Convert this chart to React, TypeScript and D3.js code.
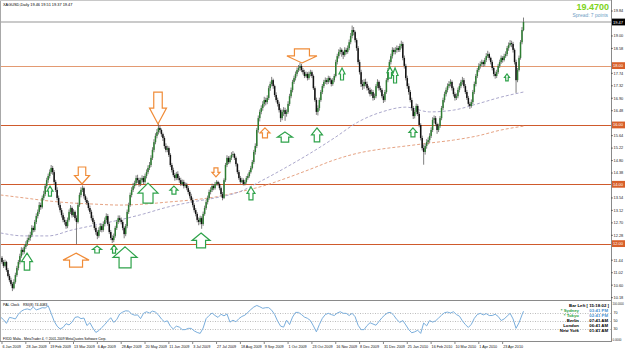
import React from 'react';
import * as d3 from 'd3';

const closes = [
  11.52, 11.38, 11.25, 11.38, 11.11, 10.91, 10.77, 10.64, 10.50, 10.71,
  10.94, 11.18, 11.38, 11.58, 11.79, 11.72, 11.89, 11.99, 12.12, 12.19,
  12.29, 12.53, 12.46, 12.73, 12.93, 13.07, 13.30, 13.23, 13.54, 13.67,
  13.94, 14.14, 14.28, 14.41, 14.55, 14.41, 14.08, 13.81, 13.54, 13.30,
  13.13, 12.96, 12.80, 12.73, 12.59, 12.80, 13.07, 13.20, 12.96, 13.07,
  12.86, 12.73, 13.30, 13.64, 13.81, 13.87, 13.60, 13.47, 13.37, 13.20,
  13.07, 12.86, 12.73, 12.53, 12.39, 12.26, 12.46, 12.59, 12.46, 12.66,
  12.80, 12.93, 12.66, 12.39, 12.19, 12.12, 12.26, 12.53, 12.73, 12.86,
  12.80, 12.73, 12.53, 12.32, 12.59, 13.07, 13.30, 13.64, 13.81, 13.94,
  14.04, 14.21, 14.14, 14.01, 14.14, 14.21, 14.08, 14.28, 14.41, 14.55,
  14.65, 14.89, 15.16, 15.42, 15.63, 15.76, 15.90, 15.83, 15.69, 15.56,
  15.29, 15.16, 15.22, 14.99, 14.65, 14.48, 14.31, 14.21, 14.35, 14.21,
  14.14, 14.01, 14.08, 13.94, 13.98, 13.87, 13.74, 13.60, 13.47, 13.30,
  13.13, 13.00, 12.80, 12.73, 12.86, 12.66, 13.00, 13.20, 13.40, 13.54,
  13.74, 13.81, 13.94, 13.87, 14.01, 14.08, 14.01, 13.87, 13.67, 13.54,
  14.14, 14.65, 14.89, 14.75, 14.89, 14.99, 15.02, 14.89, 14.68, 14.41,
  14.21, 14.08, 14.14, 14.01, 14.08, 14.21, 14.28, 14.41, 14.55, 14.75,
  15.09, 15.29, 15.83, 16.23, 16.44, 16.57, 16.71, 16.84, 16.77, 16.91,
  17.24, 17.38, 17.51, 17.31, 17.01, 16.84, 16.71, 16.50, 16.23, 16.44,
  16.50, 16.37, 16.44, 16.71, 16.97, 17.18, 17.45, 17.58, 17.72, 17.85,
  17.92, 17.99, 17.85, 17.78, 17.65, 17.72, 17.58, 17.72, 17.78, 17.65,
  17.24, 16.84, 16.44, 16.57, 16.84, 17.11, 17.31, 17.45, 17.51, 17.45,
  17.58, 17.51, 17.38, 17.51, 17.65, 18.12, 18.32, 18.46, 18.53, 18.46,
  18.36, 18.53, 18.46, 18.59, 18.79, 19.00, 19.20, 19.13, 18.86, 18.59,
  18.12, 17.78, 17.38, 17.31, 17.45, 17.38, 17.24, 17.18, 17.04, 17.11,
  16.91, 16.97, 17.31, 17.45, 17.24, 17.18, 16.97, 16.84, 17.11, 17.51,
  17.85, 18.12, 18.32, 18.53, 18.46, 18.53, 18.59, 18.53, 18.66, 18.73,
  18.26, 17.99, 17.58, 17.31, 17.11, 16.84, 16.57, 16.30, 16.44, 16.64,
  16.37, 16.00, 15.56, 15.22, 15.09, 15.29, 15.42, 15.49, 15.63, 15.83,
  16.17, 16.23, 16.03, 15.83, 15.96, 16.23, 16.57, 16.84, 17.04, 17.18,
  17.31, 17.38, 17.45, 17.24, 17.04, 16.91, 16.97, 17.18, 17.31, 17.45,
  17.51, 17.31, 17.11, 16.91, 16.71, 16.64, 16.77, 17.11, 17.38, 17.65,
  17.85, 17.99, 18.05, 18.12, 18.05, 18.19, 18.32, 18.39, 18.26, 18.12,
  17.92, 17.72, 17.65, 17.78, 17.99, 18.12, 18.26, 18.19, 18.32, 18.39,
  18.59, 18.69, 18.76, 18.73, 18.53, 18.12, 17.51, 17.85, 18.26, 18.79, 19.20, 19.47,
];

const highs = [
  11.62, 11.58, 11.45, 11.46, 11.42, 11.18, 10.98, 10.85, 10.70, 10.80,
  11.02, 11.25, 11.45, 11.66, 11.88, 11.86, 11.96, 12.08, 12.20, 12.30,
  12.40, 12.62, 12.60, 12.80, 13.02, 13.15, 13.40, 13.38, 13.62, 13.78,
  14.02, 14.22, 14.36, 14.50, 14.65, 14.62, 14.48, 14.15, 13.90, 13.62,
  13.38, 13.20, 13.04, 12.90, 12.80, 12.88, 13.15, 13.30, 13.25, 13.16,
  13.12, 12.95, 13.38, 13.72, 13.90, 13.96, 13.92, 13.66, 13.55, 13.44,
  13.28, 13.14, 12.95, 12.80, 12.60, 12.45, 12.55, 12.68, 12.66, 12.75,
  12.88, 13.02, 13.00, 12.72, 12.46, 12.28, 12.34, 12.60, 12.80, 12.95,
  12.95, 12.88, 12.80, 12.58, 12.66, 13.15, 13.38, 13.72, 13.90, 14.05,
  14.12, 14.30, 14.32, 14.22, 14.22, 14.30, 14.28, 14.36, 14.50, 14.64,
  14.75, 14.98, 15.25, 15.52, 15.72, 15.86, 16.06, 15.98, 15.88, 15.74,
  15.62, 15.38, 15.30, 15.28, 15.05, 14.72, 14.56, 14.38, 14.42, 14.44,
  14.28, 14.22, 14.16, 14.15, 14.06, 14.05, 13.94, 13.80, 13.68, 13.55,
  13.36, 13.20, 13.06, 12.88, 12.94, 12.92, 13.08, 13.28, 13.48, 13.62,
  13.82, 13.90, 14.02, 14.00, 14.08, 14.14, 14.12, 14.06, 13.92, 13.74,
  14.20, 14.72, 14.98, 14.95, 14.96, 15.08, 15.12, 15.06, 14.94, 14.72,
  14.48, 14.28, 14.22, 14.20, 14.15, 14.28, 14.36, 14.48, 14.62, 14.82,
  15.16, 15.38, 15.90, 16.32, 16.52, 16.66, 16.80, 16.95, 16.92, 17.00,
  17.32, 17.46, 17.62, 17.56, 17.36, 17.10, 16.92, 16.78, 16.56, 16.52,
  16.60, 16.58, 16.52, 16.80, 17.05, 17.26, 17.52, 17.66, 17.80, 17.94,
  18.02, 18.10, 18.06, 17.92, 17.86, 17.80, 17.78, 17.80, 17.86, 17.84,
  17.70, 17.30, 16.92, 16.66, 16.92, 17.18, 17.38, 17.52, 17.60, 17.58,
  17.66, 17.64, 17.56, 17.58, 17.72, 18.20, 18.40, 18.55, 18.62, 18.58,
  18.50, 18.62, 18.60, 18.68, 18.88, 19.10, 19.35, 19.30, 19.18, 18.92,
  18.66, 18.20, 17.86, 17.52, 17.54, 17.56, 17.46, 17.32, 17.26, 17.20,
  17.18, 17.06, 17.38, 17.54, 17.50, 17.32, 17.24, 17.04, 17.18, 17.58,
  17.92, 18.20, 18.40, 18.62, 18.60, 18.62, 18.68, 18.66, 18.74, 18.84,
  18.80, 18.34, 18.06, 17.66, 17.40, 17.18, 16.92, 16.64, 16.52, 16.72,
  16.70, 16.44, 16.06, 15.64, 15.34, 15.38, 15.52, 15.58, 15.72, 15.92,
  16.26, 16.32, 16.30, 16.08, 16.04, 16.30, 16.64, 16.92, 17.12, 17.26,
  17.40, 17.48, 17.54, 17.50, 17.30, 17.10, 17.06, 17.26, 17.40, 17.52,
  17.62, 17.58, 17.38, 17.18, 16.98, 16.78, 16.86, 17.18, 17.46, 17.72,
  17.92, 18.08, 18.14, 18.20, 18.18, 18.26, 18.42, 18.50, 18.44, 18.30,
  18.18, 17.98, 17.80, 17.86, 18.06, 18.20, 18.34, 18.32, 18.40, 18.48,
  18.66, 18.78, 18.86, 18.84, 18.80, 18.58, 18.20, 17.92, 18.34, 18.86, 19.30, 19.62,
];

const lows = [
  11.30, 11.32, 11.18, 11.20, 11.05, 10.86, 10.70, 10.58, 10.40, 10.46,
  10.65, 10.88, 11.10, 11.30, 11.52, 11.62, 11.66, 11.82, 11.92, 12.05,
  12.10, 12.22, 12.38, 12.40, 12.66, 12.85, 13.00, 13.14, 13.18, 13.46,
  13.60, 13.86, 14.05, 14.20, 14.35, 14.32, 14.00, 13.74, 13.46, 13.22,
  13.05, 12.88, 12.72, 12.64, 12.50, 12.52, 12.74, 13.00, 12.88, 12.90,
  12.78, 11.98, 12.68, 13.24, 13.56, 13.74, 13.52, 13.40, 13.30, 13.12,
  13.00, 12.78, 12.66, 12.45, 12.30, 12.15, 12.20, 12.40, 12.38, 12.40,
  12.58, 12.72, 12.60, 12.32, 12.12, 12.02, 12.05, 12.20, 12.46, 12.66,
  12.72, 12.65, 12.45, 12.18, 12.25, 12.52, 13.00, 13.24, 13.56, 13.74,
  13.86, 13.96, 14.05, 13.92, 13.94, 14.06, 14.00, 14.02, 14.20, 14.34,
  14.48, 14.58, 14.82, 15.08, 15.35, 15.55, 15.68, 15.74, 15.60, 15.46,
  15.20, 15.08, 15.08, 14.92, 14.58, 14.40, 14.24, 14.12, 14.14, 14.14,
  14.05, 13.94, 13.95, 13.86, 13.88, 13.80, 13.66, 13.52, 13.38, 13.22,
  13.05, 12.92, 12.72, 12.62, 12.65, 12.50, 12.60, 12.94, 13.14, 13.32,
  13.48, 13.66, 13.74, 13.80, 13.82, 13.96, 13.94, 13.80, 13.60, 13.46,
  13.50, 14.08, 14.58, 14.68, 14.70, 14.82, 14.92, 14.82, 14.60, 14.34,
  14.15, 14.02, 14.04, 13.96, 13.96, 14.02, 14.15, 14.22, 14.36, 14.50,
  14.68, 15.00, 15.22, 15.74, 16.12, 16.36, 16.48, 16.62, 16.66, 16.70,
  16.84, 17.15, 17.30, 17.22, 16.94, 16.76, 16.62, 16.42, 16.10, 16.16,
  16.30, 16.14, 16.28, 16.38, 16.64, 16.90, 17.10, 17.38, 17.50, 17.64,
  17.78, 17.82, 17.78, 17.70, 17.58, 17.60, 17.50, 17.52, 17.64, 17.58,
  17.18, 16.78, 16.34, 16.32, 16.48, 16.78, 17.04, 17.24, 17.38, 17.36,
  17.38, 17.44, 17.30, 17.32, 17.44, 17.60, 18.04, 18.24, 18.38, 18.30,
  18.22, 18.30, 18.38, 18.40, 18.52, 18.72, 18.92, 19.02, 18.78, 18.50,
  18.04, 17.70, 17.28, 17.18, 17.22, 17.30, 17.16, 17.06, 16.96, 16.98,
  16.82, 16.84, 16.90, 17.24, 17.16, 17.10, 16.90, 16.74, 16.78, 17.05,
  17.44, 17.78, 18.04, 18.24, 18.38, 18.38, 18.44, 18.46, 18.46, 18.58,
  18.18, 17.90, 17.50, 17.22, 17.02, 16.76, 16.48, 16.20, 16.22, 16.36,
  16.30, 15.92, 15.48, 15.14, 14.66, 15.00, 15.20, 15.34, 15.40, 15.56,
  15.76, 16.06, 15.96, 15.70, 15.76, 15.90, 16.16, 16.50, 16.76, 16.96,
  17.10, 17.24, 17.30, 17.16, 16.96, 16.82, 16.84, 16.90, 17.10, 17.24,
  17.36, 17.24, 17.04, 16.84, 16.64, 16.54, 16.58, 16.70, 17.04, 17.30,
  17.58, 17.78, 17.90, 17.98, 17.96, 17.98, 18.12, 18.26, 18.18, 18.04,
  17.84, 17.64, 17.56, 17.58, 17.72, 17.92, 18.06, 18.10, 18.14, 18.26,
  18.32, 18.50, 18.64, 18.62, 18.44, 18.04, 17.08, 17.44, 17.80, 18.20, 18.72, 19.16,
];

const firstOpen = 11.4;

const dateLabels = [
  '6 Jan 2009', '28 Jan 2009', '19 Feb 2009', '13 Mar 2009', '6 Apr 2009', '28 Apr 2009',
  '20 May 2009', '11 Jun 2009', '3 Jul 2009', '27 Jul 2009', '18 Aug 2009', '9 Sep 2009',
  '1 Oct 2009', '23 Oct 2009', '16 Nov 2009', '8 Dec 2009', '31 Dec 2009', '25 Jan 2010',
  '16 Feb 2010', '10 Mar 2010', '1 Apr 2010', '23 Apr 2010',
];
const dateLabelStart = 1;
const dateLabelEvery = 16;

const levelPrices = [18, 16, 14, 12];
const levelTexts = ['18.00', '16.00', '14.00', '12.00'];
const bidPrice = 19.47;

const priceTicks = [
  19.84, 19.42, 19.0, 18.58, 18.16, 17.74, 17.32, 16.9, 16.48, 16.06, 15.64, 15.22,
  14.8, 14.38, 13.96, 13.54, 13.12, 12.7, 12.28, 11.86, 11.44, 11.02, 10.6, 10.18,
];

const maBars = [0, 16, 32, 48, 64, 80, 96, 112, 128, 144, 160, 176, 192, 208, 224, 240, 256, 272, 288, 304, 320, 336, 351];
const maFast = [12.36, 12.26, 12.26, 12.46, 12.63, 12.80, 13.00, 13.23, 13.40, 13.54, 13.74, 14.14, 14.58, 15.05, 15.56, 16.10, 16.44, 16.60, 16.44, 16.50, 16.71, 16.94, 17.11];
const maSlow = [13.64, 13.54, 13.44, 13.37, 13.33, 13.30, 13.33, 13.40, 13.47, 13.57, 13.74, 13.94, 14.21, 14.51, 14.82, 15.05, 15.19, 15.29, 15.39, 15.49, 15.63, 15.83, 15.96];

// RSI(8), one reading every second bar, last one on the final bar
const rsiValues = [
  59.8, 53.5, 44.1, 59.0, 57.4, 55.1, 66.8, 74.7, 78.6, 80.2,
  77.8, 84.9, 77.8, 80.2, 83.3, 82.5, 88.0, 69.2, 49.6, 37.1,
  30.0, 33.9, 43.3, 40.2, 47.2, 59.0, 60.6, 55.9, 57.4, 38.6,
  45.7, 32.4, 21.4, 26.1, 33.9, 41.0, 50.4, 58.2, 46.5, 53.5,
  67.6, 72.3, 75.5, 74.7, 67.6, 64.5, 65.3, 55.9, 69.2, 73.1,
  70.0, 74.7, 72.3, 65.3, 55.1, 48.0, 50.4, 37.1, 30.0, 37.1,
  34.7, 28.4, 28.4, 31.6, 31.6, 25.3, 21.4, 19.0, 32.4, 55.9,
  63.7, 70.0, 63.7, 59.0, 66.8, 62.9, 67.6, 47.2, 52.0, 48.0,
  55.9, 61.4, 64.5, 71.5, 78.6, 84.9, 88.8, 85.7, 81.7, 83.3,
  83.3, 77.0, 66.1, 49.6, 37.1, 34.7, 52.0, 41.0, 59.8, 71.5,
  71.5, 66.1, 59.8, 56.7, 51.2, 37.8, 22.9, 41.0, 56.7, 66.1,
  69.2, 66.1, 63.7, 70.0, 73.1, 69.2, 69.2, 63.7, 69.2, 60.6,
  39.4, 28.4, 28.4, 38.6, 45.7, 42.5, 39.4, 48.8, 58.2, 65.3,
  70.8, 71.5, 63.7, 53.5, 46.5, 51.2, 40.2, 28.4, 20.6, 22.9,
  26.9, 19.0, 44.9, 37.8, 51.2, 47.2, 50.4, 57.4, 64.5, 70.8,
  72.3, 70.0, 73.1, 66.1, 62.1, 50.4, 41.0, 33.9, 41.8, 56.7,
  66.1, 69.2, 65.3, 68.4, 63.7, 63.7, 66.8, 61.4, 51.2, 55.1,
  62.1, 69.2, 55.1, 31.6, 45.7, 65.3, 74.4,
];
const rsiStep = 2;
const rsiLevels = [70, 50, 30];

// signal arrows drawn on the chart: bar, tip price, direction, kind
const arrowBars = [17.8, 33.2, 54.7, 50.7, 64.8, 76.2, 83.6, 99, 116.4, 105.7, 134.6, 144.6, 168.1, 177.5, 190.9, 212.4, 202.3, 229.2, 261.4, 264.8, 276.8, 339.9];
const arrowPrices = [11.68, 13.94, 14.01, 11.68, 11.92, 11.95, 11.89, 14.04, 13.94, 16.03, 12.36, 14.25, 13.91, 15.90, 15.76, 15.90, 18.09, 17.92, 17.95, 17.92, 15.90, 17.72];
const arrowDirs = ['up', 'up', 'down', 'up', 'up', 'up', 'up', 'up', 'up', 'down', 'up', 'down', 'up', 'up', 'up', 'up', 'down', 'up', 'up', 'up', 'up', 'up'];
const arrowKinds = ['buy', 'buy', 'sell', 'sell', 'buy', 'buy', 'buy', 'buy', 'buy', 'sell', 'buy', 'sell', 'buy', 'sell', 'buy', 'buy', 'sell', 'buy', 'buy', 'buy', 'buy', 'buy'];

// styling (sizes of the arrow glyphs, in px)
const ARROW_SIZE: [number, number][] = [
  [11, 17], [6, 10], [15, 17], [26, 14], [9, 7], [6, 8], [24, 21], [20, 20], [8, 8], [17, 32], [18, 15],
  [8, 9], [8, 13], [10, 10], [15, 10], [11, 14], [30, 14], [6, 12], [6, 11], [6, 15], [8, 9], [5, 7],
];

const W = 625;
const H = 349;
const AXIS_X = 611;
const MAIN_TOP = 0;
const MAIN_BOTTOM = 300;
const RSI_TOP = 301;
const RSI_BOTTOM = 341;
const FONT = '"Liberation Sans", Arial, sans-serif';

function arrowPoints(cx: number, ty: number, w: number, h: number, dir: string) {
  const s = dir === 'up' ? 1 : -1;
  const hh = h * 0.5;
  const sw = w * 0.5;
  const pts = [
    [cx, ty],
    [cx + w / 2, ty + s * hh],
    [cx + sw / 2, ty + s * hh],
    [cx + sw / 2, ty + s * h],
    [cx - sw / 2, ty + s * h],
    [cx - sw / 2, ty + s * hh],
    [cx - w / 2, ty + s * hh],
  ];
  return pts.map((p) => p.join(',')).join(' ');
}

export default function App() {
  const n = closes.length;
  const x = d3.scaleLinear().domain([0, n - 1]).range([0.5, 523.5]);
  const y = d3.scaleLinear().domain([10.1, 19.47]).range([300, 22]);
  const ry = d3.scaleLinear().domain([0, 100]).range([RSI_BOTTOM, RSI_TOP]);

  const opens = [firstOpen, ...closes.slice(0, -1)];

  const maLine = d3
    .line<number>()
    .x((_, i) => x(maBars[i]))
    .y((v) => y(v))
    .curve(d3.curveMonotoneX);

  const rsiLine = d3
    .line<number>()
    .x((_, i) => x(Math.min(i * rsiStep, n - 1)))
    .y((v) => ry(v));

  const bullFill = '#2e7d32';
  const bearFill = '#111111';
  const wickColor = '#5e5e5e';

  const boxYs = [...levelPrices, bidPrice].map((p) => y(p));
  const visibleTicks = priceTicks.filter((p) => boxYs.every((by) => Math.abs(y(p) - by) > 5.5));

  return (
    <svg
      width={W}
      height={H}
      viewBox={`0 0 ${W} ${H}`}
      style={{ position: 'absolute', left: 0, top: 0, background: '#ffffff' }}
      fontFamily={FONT}
    >
      <defs>
        <clipPath id="mainClip">
          <rect x={0} y={MAIN_TOP} width={AXIS_X} height={MAIN_BOTTOM - MAIN_TOP} />
        </clipPath>
        <clipPath id="rsiClip">
          <rect x={0} y={RSI_TOP} width={AXIS_X} height={RSI_BOTTOM - RSI_TOP} />
        </clipPath>
      </defs>
      <rect x={0} y={0} width={W} height={H} fill="#ffffff" />

      <g clipPath="url(#mainClip)">
        <line x1={0} x2={AXIS_X} y1={y(bidPrice)} y2={y(bidPrice)} stroke="#b9b9b9" strokeWidth={1.6} />
        {levelPrices.map((p, i) => (
          <line
            key={'lv' + i}
            x1={0}
            x2={AXIS_X}
            y1={Math.round(y(p)) + 0.5}
            y2={Math.round(y(p)) + 0.5}
            stroke={i === 0 ? '#e39a72' : '#cf5a2c'}
            strokeWidth={1.1}
          />
        ))}
        <path d={maLine(maSlow) || ''} fill="none" stroke="#e6a383" strokeWidth={1} strokeDasharray="3,2" />
        <path d={maLine(maFast) || ''} fill="none" stroke="#aba8cc" strokeWidth={1} strokeDasharray="3,2" />
        {closes.map((c, i) => {
          const o = opens[i];
          const cx = x(i);
          const top = y(Math.max(o, c));
          const bot = y(Math.min(o, c));
          return (
            <g key={'c' + i}>
              <line x1={cx} x2={cx} y1={y(highs[i])} y2={y(lows[i])} stroke={wickColor} strokeWidth={0.8} />
              <rect
                x={cx - 0.75}
                y={top}
                width={1.5}
                height={Math.max(0.8, bot - top)}
                fill={c >= o ? bullFill : bearFill}
              />
            </g>
          );
        })}
        {arrowBars.map((b, i) => {
          const [w, h] = ARROW_SIZE[i];
          const col = arrowKinds[i] === 'buy' ? '#2ea24a' : '#f08c38';
          return (
            <polygon
              key={'a' + i}
              points={arrowPoints(x(b), y(arrowPrices[i]), w, h, arrowDirs[i])}
              fill="#ffffff"
              stroke={col}
              strokeWidth={1.2}
            />
          );
        })}
      </g>

      <text x={3} y={6} fontSize={3.9} fill="#000">
        XAGUSD,Daily  19.46 19.51 19.37 19.47
      </text>
      <text x={609} y={10} fontSize={9} fontWeight="bold" fill="#7ed321" textAnchor="end">
        19.4700
      </text>
      <text x={608} y={16.5} fontSize={4.9} fill="#6d9cc4" textAnchor="end">
        Spread: 7 points
      </text>

      <g clipPath="url(#rsiClip)">
        {rsiLevels.map((lv) => (
          <line
            key={'rl' + lv}
            x1={0}
            x2={AXIS_X}
            y1={Math.round(ry(lv)) + 0.5}
            y2={Math.round(ry(lv)) + 0.5}
            stroke="#a0a0a0"
            strokeWidth={0.7}
            strokeDasharray="1,1.5"
          />
        ))}
        <path d={rsiLine(rsiValues) || ''} fill="none" stroke="#7aaedc" strokeWidth={1} />
      </g>
      <text x={3} y={306} fontSize={3.6} fill="#000">PAL Clock</text>
      <text x={23} y={306} fontSize={3.6} fill="#000">RSI(8) 74.4083</text>
      <text x={3} y={339.5} fontSize={3.3} fill="#000">
        FXDD Malta - MetaTrader 4, © 2001-2009 MetaQuotes Software Corp.
      </text>

      <g fontSize={4.3} fontWeight="bold">
        <text x={609} y={306.5} textAnchor="end" fill="#000">Bar Left [ 15:18:02 ]</text>
        <text x={579} y={312} textAnchor="end" fill="#2e9e3e">* Sydney</text>
        <text x={608} y={312} textAnchor="end" fill="#4a8fd0">03:41 PM</text>
        <text x={579} y={317} textAnchor="end" fill="#2e9e3e">* Tokyo</text>
        <text x={608} y={317} textAnchor="end" fill="#4a8fd0">02:41 PM</text>
        <text x={579} y={322} textAnchor="end" fill="#000">Berlin</text>
        <text x={608} y={322} textAnchor="end" fill="#000">07:41 AM</text>
        <text x={579} y={327} textAnchor="end" fill="#000">London</text>
        <text x={608} y={327} textAnchor="end" fill="#000">06:41 AM</text>
        <text x={579} y={332} textAnchor="end" fill="#000">New York</text>
        <text x={608} y={332} textAnchor="end" fill="#000">01:41 AM</text>
      </g>

      <line x1={0.5} x2={0.5} y1={0} y2={RSI_BOTTOM} stroke="#a8a8a8" strokeWidth={1} />
      <line x1={0} x2={AXIS_X} y1={0.5} y2={0.5} stroke="#c8c8c8" strokeWidth={1} />
      <line x1={0} x2={AXIS_X} y1={MAIN_BOTTOM + 0.5} y2={MAIN_BOTTOM + 0.5} stroke="#8a8a8a" strokeWidth={1} />
      <line x1={0} x2={AXIS_X} y1={RSI_BOTTOM + 0.5} y2={RSI_BOTTOM + 0.5} stroke="#8a8a8a" strokeWidth={1} />
      <line x1={AXIS_X + 0.5} x2={AXIS_X + 0.5} y1={0} y2={RSI_BOTTOM + 1} stroke="#8a8a8a" strokeWidth={1} />

      <g fontSize={3.9} fill="#222">
        {visibleTicks.map((p) => (
          <g key={'pt' + p}>
            <line x1={AXIS_X} x2={AXIS_X + 2} y1={y(p)} y2={y(p)} stroke="#333" strokeWidth={0.6} />
            <text x={AXIS_X + 2.5} y={y(p) + 1.4}>{p.toFixed(2)}</text>
          </g>
        ))}
      </g>
      {levelPrices.map((p, i) => (
        <g key={'lb' + i}>
          <rect x={AXIS_X + 1} y={y(p) - 3.4} width={13} height={6.8} fill="#d8602a" />
          <text x={AXIS_X + 2} y={y(p) + 1.5} fontSize={4} fill="#ffffff">{levelTexts[i]}</text>
        </g>
      ))}
      <rect x={AXIS_X + 1} y={y(bidPrice) - 3.4} width={13} height={6.8} fill="#000" />
      <text x={AXIS_X + 2} y={y(bidPrice) + 1.5} fontSize={4} fill="#ffffff">{bidPrice.toFixed(2)}</text>

      <g fontSize={3.6} fill="#222">
        <text x={AXIS_X + 1.5} y={ry(100) + 3.5} fontSize={2.7}>100.0000</text>
        {rsiLevels.map((lv) => (
          <text key={'rt' + lv} x={AXIS_X + 2.5} y={ry(lv) + 1.3}>{lv}</text>
        ))}
        <text x={AXIS_X + 1.5} y={ry(0)} fontSize={2.9}>0.0000</text>
      </g>

      <g fontSize={3.7} fill="#111">
        {dateLabels.map((d, k) => {
          const bx = x(dateLabelStart + k * dateLabelEvery);
          return (
            <g key={'d' + k}>
              <line x1={bx} x2={bx} y1={RSI_BOTTOM + 1} y2={RSI_BOTTOM + 3} stroke="#333" strokeWidth={0.6} />
              <text x={bx + 0.5} y={347.5}>{d}</text>
            </g>
          );
        })}
      </g>
    </svg>
  );
}
